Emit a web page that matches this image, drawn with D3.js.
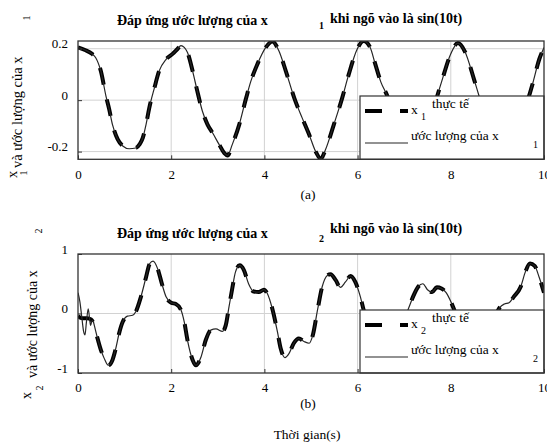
<html>
<head>
<script src="https://d3js.org/d3.v7.min.js"></script>
<style>
    body { margin: 0; background: #fff; }
    svg text { font-family: "Liberation Serif", "Times New Roman", serif; fill: #000; }
    .frame { fill: none; stroke: #333; stroke-width: 1.3px; }
    .grid line { stroke: #d2d2d2; stroke-width: 1px; }
    .actual { fill: none; stroke: #000; stroke-width: 4px; stroke-dasharray: 17, 15; }
    .estimate { fill: none; stroke: #262626; stroke-width: 1.2px; }
    .legend-box { fill: #fff; stroke: #333; stroke-width: 1.2px; }
    .title { font-weight: bold; }
</style>
</head>
<body>
<svg id="chart" width="547" height="442"></svg>
<script>
// ticks
const xTicks = [0, 2, 4, 6, 8, 10];
const y1Ticks = [-0.2, 0, 0.2];
const y2Ticks = [-1, 0, 1];

// panel (a): x1, actual and estimate lie on top of each other
const t1 = [0, 0.15, 0.3, 0.38, 0.49, 0.6, 0.67, 0.74, 0.85, 0.96, 1.1, 1.24, 1.32, 1.39, 1.46, 1.53, 1.64, 1.74, 1.89, 2.03,
            2.13, 2.21, 2.28, 2.35, 2.46, 2.56, 2.67, 2.78, 2.89, 3.03, 3.14, 3.21, 3.31, 3.46, 3.6, 3.71, 3.85, 4.03, 4.17, 4.31,
            4.46, 4.64, 4.81, 4.96, 5.1, 5.21, 5.31, 5.49, 5.67, 5.81, 5.99, 6.13, 6.27, 6.37, 6.5, 6.64, 6.8, 7.0, 7.2, 7.4,
            7.6, 7.8, 8.0, 8.15, 8.3, 8.5, 8.7, 8.9, 9.15, 9.35, 9.55, 9.75, 9.9, 10];
const x1True = [0.205, 0.195, 0.18, 0.165, 0.113, 0.016, -0.036, -0.095, -0.152, -0.178, -0.189, -0.186, -0.172, -0.147, -0.095, -0.03, 0.048, 0.113, 0.159, 0.18,
                0.198, 0.212, 0.205, 0.185, 0.113, 0.035, -0.043, -0.095, -0.128, -0.173, -0.206, -0.215, -0.173, -0.095, 0.003, 0.074, 0.14, 0.205, 0.228, 0.192,
                0.113, 0.009, -0.069, -0.134, -0.2, -0.228, -0.193, -0.095, 0.009, 0.1, 0.198, 0.23, 0.205, 0.146, 0.07, 0.015, -0.08, -0.17, -0.22, -0.17,
                -0.05, 0.07, 0.18, 0.222, 0.19, 0.08, -0.04, -0.15, -0.22, -0.17, -0.06, 0.06, 0.16, 0.205];
const x1Est = x1True;

// panel (b): x2
const t2 = [0, 0.05, 0.1, 0.2, 0.28, 0.35, 0.42, 0.49, 0.56, 0.65, 0.74, 0.81, 0.88, 0.96, 1.06, 1.17, 1.24, 1.35, 1.46, 1.54,
            1.61, 1.71, 1.8, 1.89, 2.0, 2.1, 2.21, 2.28, 2.35, 2.46, 2.53, 2.64, 2.74, 2.85, 2.96, 3.1, 3.17, 3.24, 3.31, 3.38,
            3.47, 3.56, 3.66, 3.77, 3.88, 3.99, 4.06, 4.17, 4.28, 4.35, 4.44, 4.53, 4.63, 4.74, 4.85, 4.96, 5.04, 5.14, 5.24, 5.35,
            5.42, 5.53, 5.63, 5.74, 5.85, 5.95, 6.06, 6.13, 6.2, 6.3, 6.45, 6.6, 6.75, 6.9, 7.0, 7.1, 7.2, 7.3, 7.4, 7.5,
            7.6, 7.7, 7.8, 7.9, 8.0, 8.1, 8.2, 8.35, 8.5, 8.65, 8.8, 8.95, 9.05, 9.15, 9.25, 9.35, 9.5, 9.6, 9.7, 9.8,
            9.9, 10];
const x2True = [-0.04, -0.07, -0.08, -0.08, -0.1, -0.2, -0.42, -0.61, -0.75, -0.87, -0.78, -0.59, -0.34, -0.14, -0.045, -0.03, 0.03, 0.28, 0.61, 0.84,
                0.88, 0.75, 0.5, 0.28, 0.18, 0.16, 0.06, -0.14, -0.45, -0.78, -0.87, -0.73, -0.45, -0.28, -0.26, -0.3, -0.2, 0.11, 0.42, 0.7,
                0.81, 0.73, 0.5, 0.37, 0.36, 0.4, 0.34, 0.08, -0.31, -0.59, -0.74, -0.67, -0.5, -0.42, -0.47, -0.5, -0.36, 0.06, 0.45, 0.64,
                0.66, 0.56, 0.44, 0.53, 0.63, 0.53, 0.28, 0.06, -0.1, -0.35, -0.65, -0.76, -0.65, -0.35, -0.1, 0.1, 0.3, 0.45, 0.5, 0.4,
                0.36, 0.44, 0.42, 0.35, 0.2, 0.0, -0.3, -0.6, -0.7, -0.55, -0.3, -0.05, 0.1, 0.16, 0.18, 0.28, 0.45, 0.7, 0.84, 0.8,
                0.6, 0.35];
// estimate: start transient, then it follows the actual curve
const t2EstStart = [0, 0.04, 0.08, 0.12, 0.15, 0.18, 0.22, 0.25, 0.27, 0.3, 0.33];
const x2EstStart = [0.35, 0.2, -0.05, -0.3, -0.36, -0.15, 0.08, -0.1, -0.2, -0.12, -0.14];

const titleMain = "Đáp ứng ước lượng của x";
const titleTail = "khi ngõ vào là sin(10t)";
const legendTrue = "thực tế";
const legendEst = "ước lượng của x";
const yLabelText = "và ước lượng của x";

const svg = d3.select("#chart");

const panels = [
    {id: "a", sub: "1", left: 78, right: 544, top: 41, bottom: 159.3, yDomain: [-0.23, 0.23], yTicks: y1Ticks,
     tt: t1, yTrue: x1True, te: t1, yEst: x1Est,
     titleY: [25, 29, 22.5], legTop: 96, tag: "(a)", tagY: 199,
     ylab: {x: 17, xy: 178, s1: 27, s1y: 173, main: 22, mainY: 168, s2: 30, s2y: 18, size: 14.5}},
    {id: "b", sub: "2", left: 78, right: 544, top: 254, bottom: 373, yDomain: [-1, 1], yTicks: y2Ticks,
     tt: t2, yTrue: x2True,
     te: t2EstStart.concat(t2.filter(t => t > 0.34)),
     yEst: x2EstStart.concat(x2True.filter((v, i) => t2[i] > 0.34)),
     titleY: [238, 242, 233], legTop: 310, tag: "(b)", tagY: 408,
     ylab: {x: 31, xy: 399, s1: 43, s1y: 388, main: 37, mainY: 378, s2: 42, s2y: 231, size: 14}}
];

panels.forEach(p => {
    const x = d3.scaleLinear().domain([0, 10]).range([p.left, p.right]);
    const y = d3.scaleLinear().domain(p.yDomain).range([p.bottom, p.top]);
    const g = svg.append("g");

    // grid
    const grid = g.append("g").attr("class", "grid");
    grid.selectAll(".gx").data(xTicks.filter(d => d > 0 && d < 10)).join("line")
        .attr("x1", d => x(d)).attr("x2", d => x(d))
        .attr("y1", p.top).attr("y2", p.bottom);
    grid.selectAll(".gy").data(p.yTicks.filter(d => d > p.yDomain[0] && d < p.yDomain[1])).join("line")
        .attr("x1", p.left).attr("x2", p.right)
        .attr("y1", d => y(d)).attr("y2", d => y(d));

    // curves
    g.append("clipPath").attr("id", "clip" + p.id)
        .append("rect").attr("x", p.left).attr("y", p.top)
        .attr("width", p.right - p.left).attr("height", p.bottom - p.top);
    const line = d3.line().x(d => x(d[0])).y(d => y(d[1])).curve(d3.curveMonotoneX);
    const plot = g.append("g").attr("clip-path", "url(#clip" + p.id + ")");
    plot.append("path").attr("class", "actual").attr("d", line(d3.zip(p.tt, p.yTrue)));
    plot.append("path").attr("class", "estimate").attr("d", line(d3.zip(p.te, p.yEst)));

    // axes, ticks pointing inward
    const xa = g.append("g").attr("transform", "translate(0," + p.bottom + ")")
        .call(d3.axisBottom(x).tickValues(xTicks).tickSize(-4).tickPadding(10).tickFormat(d => String(d)));
    xa.select(".domain").remove();
    xa.attr("font-size", 13).attr("color", "#333");

    const ya = g.append("g").attr("transform", "translate(" + p.left + ",0)")
        .call(d3.axisLeft(y).tickValues(p.yTicks).tickSize(-4).tickPadding(10).tickFormat(d => String(d)));
    ya.select(".domain").remove();
    ya.attr("font-size", 13).attr("color", "#333");
    ya.selectAll("text").attr("y", -5);

    // legend
    const lx = 360, lw = p.right - 360;
    const leg = g.append("g");
    leg.append("rect").attr("class", "legend-box")
        .attr("x", lx).attr("y", p.legTop).attr("width", lw).attr("height", p.bottom - p.legTop);
    leg.append("line").attr("class", "actual").style("stroke-dasharray", "17,18")
        .attr("x1", lx + 5).attr("x2", lx + 48).attr("y1", p.legTop + 15).attr("y2", p.legTop + 15);
    leg.append("text").attr("x", lx + 51).attr("y", p.legTop + 17.5).attr("font-size", 13.5).text("x");
    leg.append("text").attr("x", lx + 61).attr("y", p.legTop + 23.5).attr("font-size", 10).text(p.sub);
    leg.append("text").attr("x", lx + 72).attr("y", p.legTop + 12).attr("font-size", 13.5).text(legendTrue);
    leg.append("line").attr("class", "estimate")
        .attr("x1", lx + 5).attr("x2", lx + 48).attr("y1", p.legTop + 47).attr("y2", p.legTop + 47);
    leg.append("text").attr("x", lx + 51).attr("y", p.legTop + 43.5).attr("font-size", 13.5).text(legendEst);
    leg.append("text").attr("x", lx + 173).attr("y", p.legTop + 52).attr("font-size", 10).text(p.sub);

    // frame
    g.append("rect").attr("class", "frame")
        .attr("x", p.left).attr("y", p.top)
        .attr("width", p.right - p.left).attr("height", p.bottom - p.top);

    // title
    g.append("text").attr("class", "title").attr("x", 117).attr("y", p.titleY[0]).attr("font-size", 14).text(titleMain);
    g.append("text").attr("class", "title").attr("x", 319).attr("y", p.titleY[1]).attr("font-size", 10).text(p.sub);
    g.append("text").attr("class", "title").attr("x", 330).attr("y", p.titleY[2]).attr("font-size", 14).text(titleTail);

    // y label (rotated)
    const yl = p.ylab;
    g.append("text").attr("transform", "translate(" + yl.x + "," + yl.xy + ") rotate(-90)")
        .attr("font-size", yl.size).text("x");
    g.append("text").attr("transform", "translate(" + yl.s1 + "," + yl.s1y + ") rotate(-90)")
        .attr("font-size", 10).attr("text-anchor", "middle").text(p.sub);
    g.append("text").attr("transform", "translate(" + yl.main + "," + yl.mainY + ") rotate(-90)")
        .attr("font-size", yl.size).text(yLabelText);
    g.append("text").attr("transform", "translate(" + yl.s2 + "," + yl.s2y + ") rotate(-90)")
        .attr("font-size", 10).attr("text-anchor", "middle").text(p.sub);

    // panel tag
    g.append("text").attr("x", 308).attr("y", p.tagY).attr("font-size", 13.5)
        .attr("text-anchor", "middle").text(p.tag);
});

svg.append("text").attr("x", 307).attr("y", 439).attr("font-size", 13.5)
    .attr("text-anchor", "middle").text("Thời gian(s)");
</script>
</body>
</html>
